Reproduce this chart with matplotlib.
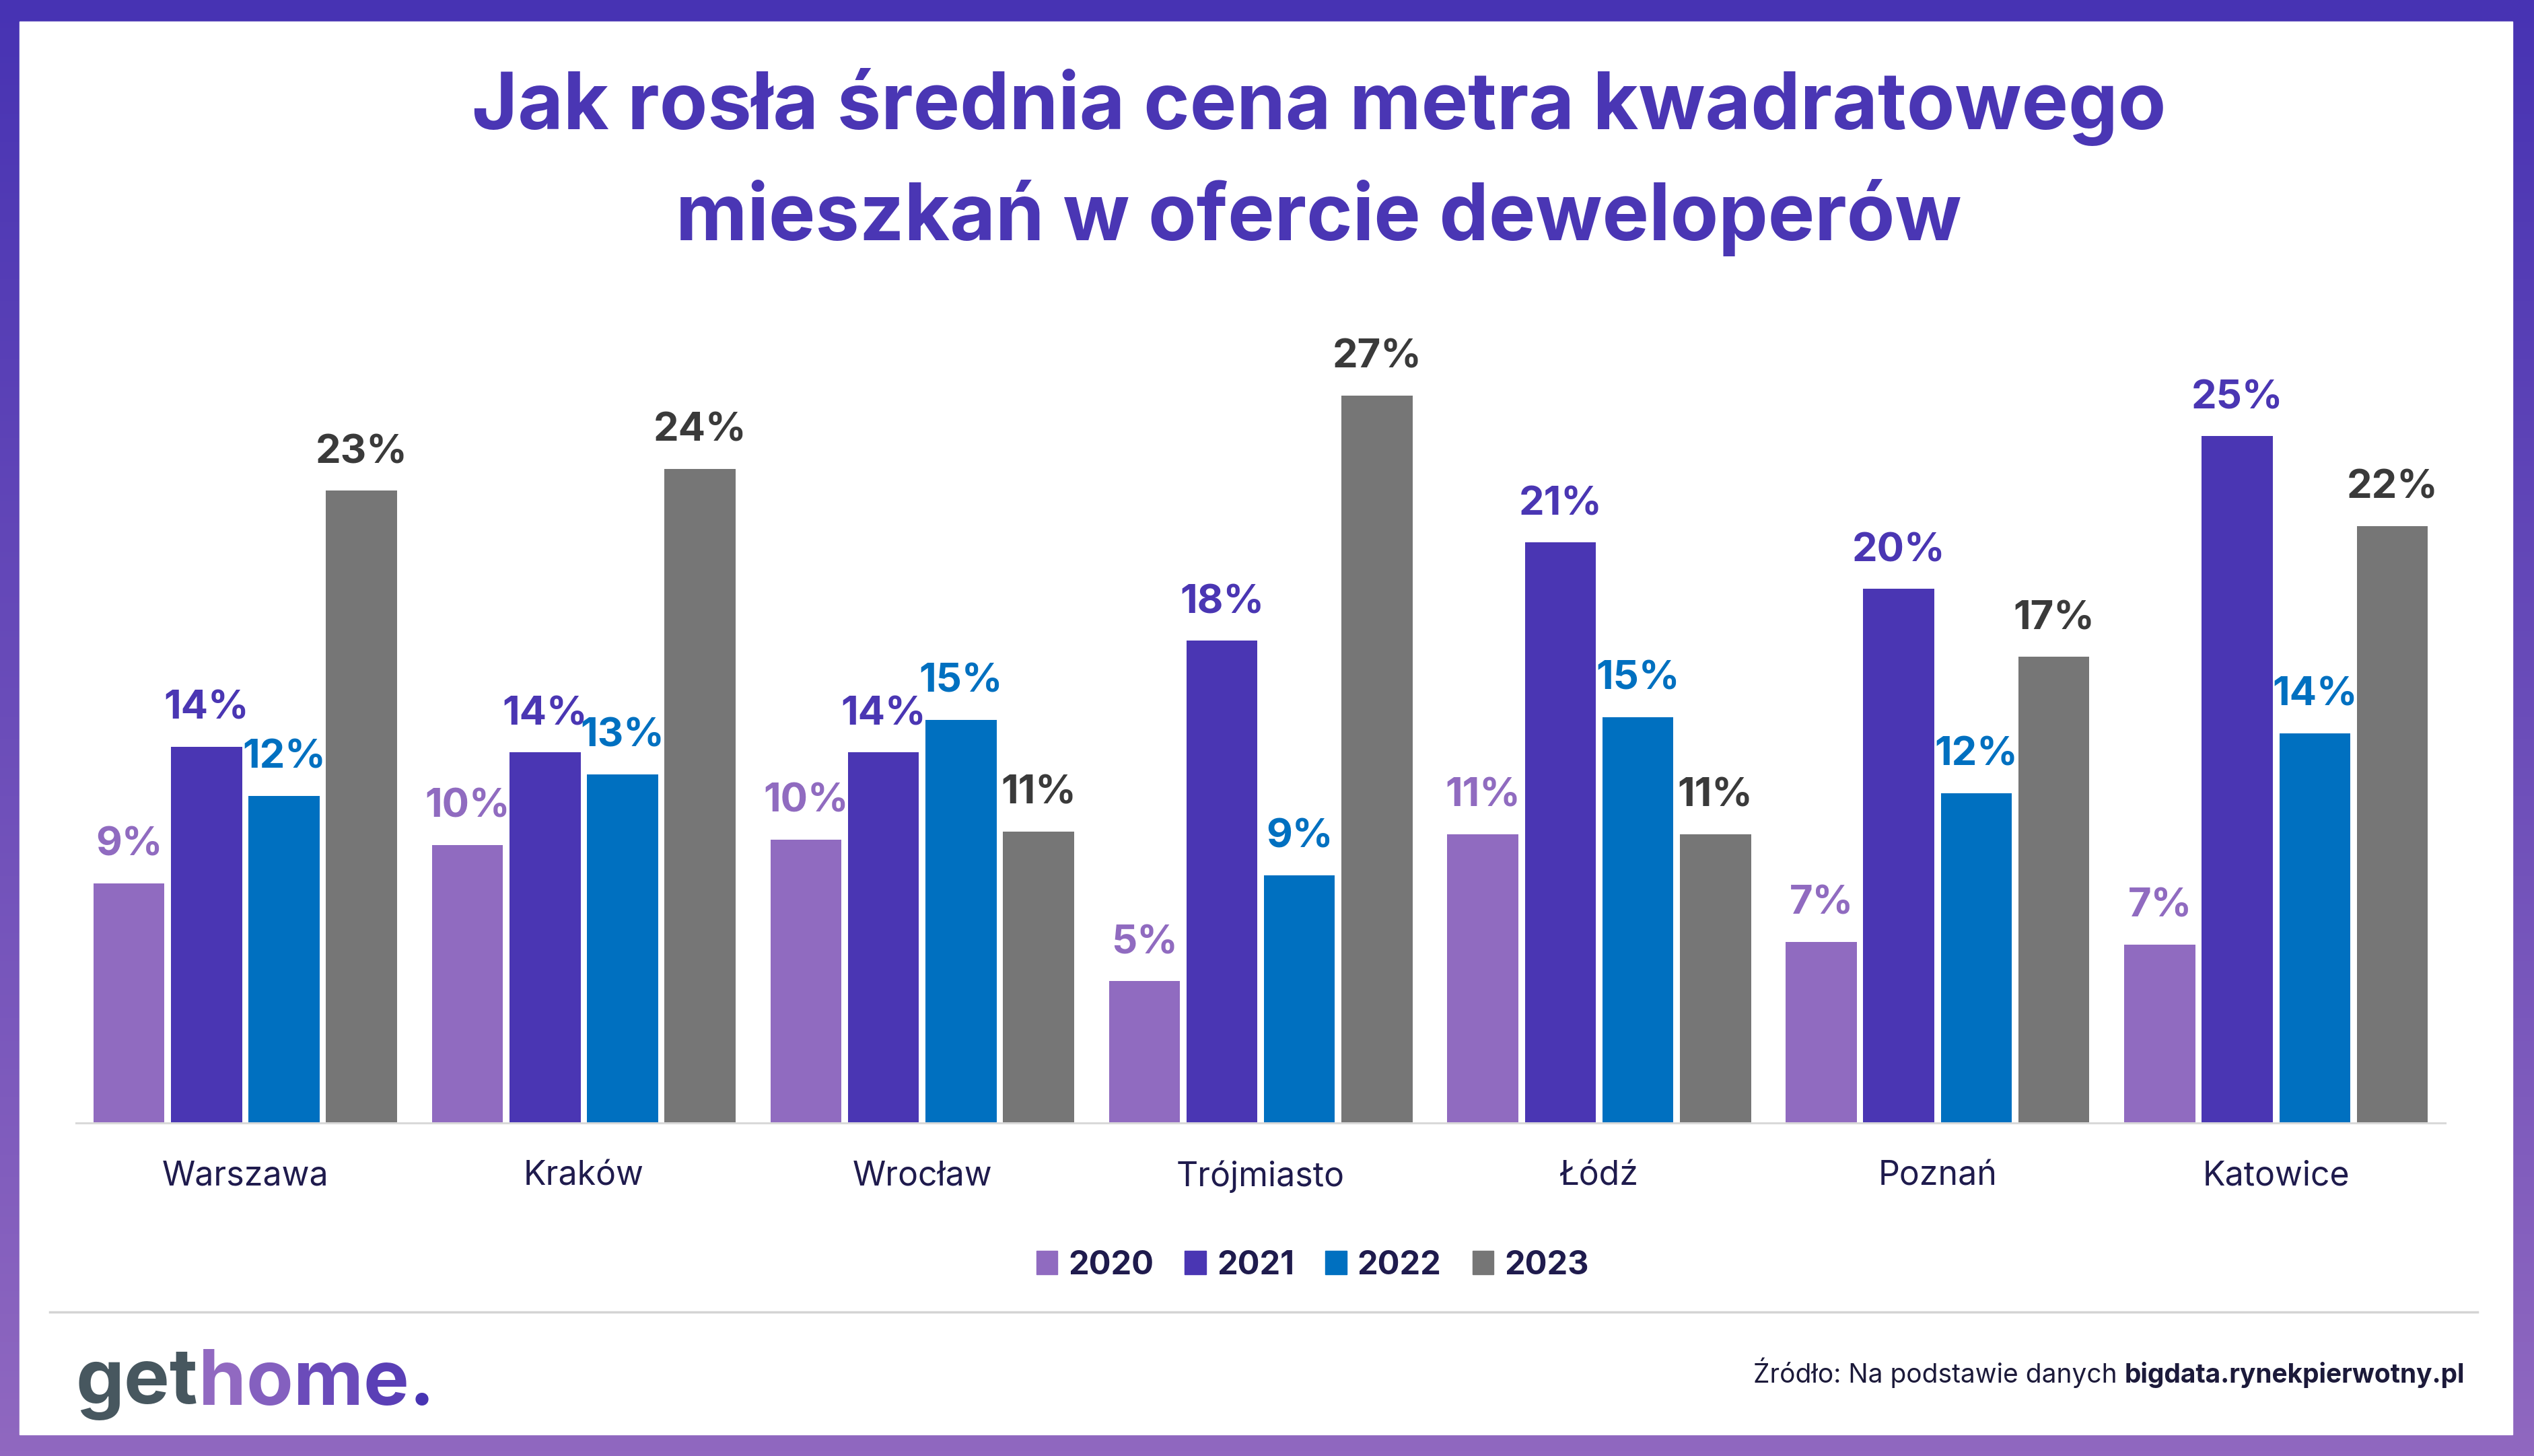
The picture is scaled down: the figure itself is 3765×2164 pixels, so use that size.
import matplotlib.pyplot as plt
import numpy as np
from matplotlib.colors import LinearSegmentedColormap
from matplotlib.lines import Line2D
from matplotlib.patches import Patch, Rectangle

cities = ["Warszawa", "Kraków", "Wrocław", "Trójmiasto", "Łódź", "Poznań", "Katowice"]
years = ["2020", "2021", "2022", "2023"]
v2020 = [8.8, 10.2, 10.4, 5.2, 10.6, 6.65, 6.55]
v2021 = [13.8, 13.6, 13.6, 17.7, 21.3, 19.6, 25.2]
v2022 = [12.0, 12.8, 14.8, 9.1, 14.9, 12.1, 14.3]
v2023 = [23.2, 24.0, 10.7, 26.7, 10.6, 17.1, 21.9]

bar_colors = ["#906bc0", "#4a36b3", "#0070c0", "#767676"]
label_colors = ["#906bc0", "#4a36b3", "#0070c0", "#3a3a3a"]
navy = "#1f1b4d"

plt.rcParams["font.family"] = ["Inter", "DejaVu Sans"]

fig = plt.figure(figsize=(37.65, 21.64), dpi=100)

# ramka z gradientem + białe tło
bg = fig.add_axes([0, 0, 1, 1], zorder=-10)
grad = np.linspace(0, 1, 256).reshape(-1, 1)
cmap = LinearSegmentedColormap.from_list("ramka", ["#4733b3", "#9068c0"])
bg.imshow(grad, aspect="auto", cmap=cmap, extent=[0, 1, 0, 1], origin="upper")
bg.add_patch(Rectangle((0.0078, 0.0148), 0.9837, 0.9704, color="white", transform=bg.transAxes))
bg.set_xlim(0, 1)
bg.set_ylim(0, 1)
bg.axis("off")

# tytuł
fig.text(0.5204, 0.9113, "Jak rosła średnia cena metra kwadratowego", ha="center", va="baseline",
         fontsize=84, fontweight="bold", color="#4a36b4")
fig.text(0.5204, 0.835, "mieszkań w ofercie deweloperów", ha="center", va="baseline",
         fontsize=84, fontweight="bold", color="#4a36b4")

# wykres
ax = fig.add_axes([0.030, 0.2287, 0.935, 0.5615])
ax.patch.set_alpha(0)
x = np.arange(len(cities))
series = [v2020, v2021, v2022, v2023]
for i, vals in enumerate(series):
    xs = x + (i - 1.5) * 0.229
    ax.bar(xs, vals, width=0.21, color=bar_colors[i])
    for xp, v in zip(xs, vals):
        ax.annotate(f"{round(v)}%", (xp, v), xytext=(0, 21), textcoords="offset points",
                    ha="center", va="bottom", fontsize=43, fontweight="bold", color=label_colors[i])

ax.set_xlim(-0.5, 6.5)
ax.set_ylim(0, 30)
ax.set_yticks([])
ax.set_xticks(x, cities, fontsize=36, color=navy)
ax.tick_params(axis="x", length=0, pad=40)
for s in ["top", "left", "right"]:
    ax.spines[s].set_visible(False)
ax.spines["bottom"].set_color("#d9d9d9")
ax.spines["bottom"].set_linewidth(2.2)

# legenda
handles = [Patch(color=c) for c in bar_colors]
fig.legend(handles, years, loc="center", bbox_to_anchor=(0.518, 0.131), ncol=4, frameon=False,
           handlelength=0.65, handleheight=0.7, handletextpad=0.33, columnspacing=0.95,
           prop=dict(weight="bold", size=35), labelcolor=navy)

# linia oddzielająca stopkę
fig.add_artist(Line2D([31 / 1568, 1533 / 1568], [0.0988, 0.0988], color="#d4d4d4", lw=2.5))

# logo gethome.
prev = bg.text(0.030, 0.036, "get", transform=fig.transFigure, va="baseline", ha="left",
               fontsize=82, fontweight="bold", color="#47575f")
for ch, col in zip(["h", "o", "m", "e", "."], ["#9169c1", "#8460bf", "#6b4bba", "#5a3fb6", "#4834b3"]):
    prev = bg.annotate(ch, xy=(1, 0), xycoords=prev, va="bottom", ha="left",
                       fontsize=82, fontweight="bold", color=col)

# źródło
src_b = bg.text(0.9726, 0.0504, "bigdata.rynekpierwotny.pl", transform=fig.transFigure,
                ha="right", va="baseline", fontsize=28, fontweight="bold", color="#1c1a3a")
bg.annotate("Źródło: Na podstawie danych ", xy=(0, 0), xycoords=src_b, ha="right", va="bottom",
            fontsize=28, color="#1c1a3a")

fig.savefig("out.png", dpi=100)
